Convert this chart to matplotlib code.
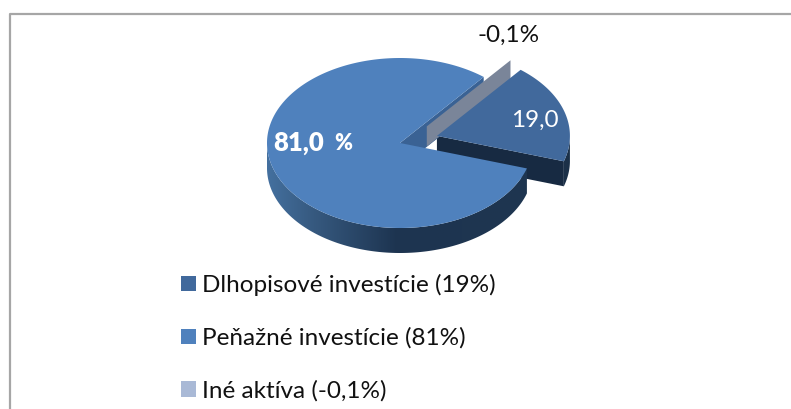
import numpy as np
import matplotlib
matplotlib.use("Agg")
import matplotlib.pyplot as plt
from matplotlib.colors import LinearSegmentedColormap
from matplotlib.patches import Patch, Polygon

plt.rcParams['font.family'] = ['Lato', 'DejaVu Sans']

labels = ['Dlhopisové investície (19%)', 'Peňažné investície (81%)', 'Iné aktíva (-0,1%)']
values = [19.0, 81.0]
other_value = -0.1
colors = ['#41699c', '#4f81bd', '#a9b9d6']

# pie geometry, in pixels of the picture
cx, cy = 400, 143
rx, ry = 133, 85
depth = 25
start = 51.0
explode = 0.29


def arc(x0, y0, a0, a1, n=200):
    t = np.radians(np.linspace(a0, a1, n))
    return np.column_stack([x0 + rx * np.cos(t), y0 - ry * np.sin(t)])


def shifted(x0, y0, a, k):
    t = np.radians(a)
    return x0 + k * rx * np.cos(t), y0 - k * ry * np.sin(t)


fig = plt.figure(figsize=(7.91, 4.09), dpi=100)
ax = fig.add_axes([0, 0, 1, 1])

a_big_end = start + values[1] * 3.6
a_small_end = a_big_end + values[0] * 3.6
mid = (a_big_end + a_small_end) / 2
sx, sy = shifted(cx, cy, mid, explode)
ox, oy = shifted(cx, cy, start, explode + 0.03)
oy += 4.5

# exploded slice: cut face and rim
p = arc(sx, sy, a_big_end, 360)
edge = np.vstack([[sx, sy], p[:1], p[:1] + [0, depth], [sx, sy + depth]])
ax.add_patch(Polygon(edge, fc='#172a42', ec='none', zorder=2))
rim = np.vstack([p, p[::-1] + [0, depth]])
ax.add_patch(Polygon(rim, fc='#1b3048', ec='none', zorder=2))

# inner wall of the big slice
e = arc(cx, cy, start, start, 1)[0]
band = [[cx, cy], e, e + [0, depth], [cx, cy + depth]]
ax.add_patch(Polygon(band, fc='#3a6294', ec='none', zorder=3))

# thin negative slice shows only as a grey wall
w = arc(ox, oy, start, start, 1)[0]
wall = [[ox, oy], w, w + [0, 20], [ox, oy + 20]]
ax.add_patch(Polygon(wall, fc='#7a8599', ec='none', zorder=4))

# exploded slice top
top = np.vstack([[sx, sy], arc(sx, sy, a_big_end, a_small_end)])
ax.add_patch(Polygon(top, fc=colors[0], ec='none', zorder=5))

# rim of big slice with shading
low = arc(cx, cy, 180, a_big_end)
body = np.vstack([low, low[::-1] + [0, depth]])
clip = Polygon(body, fc='none', ec='none', transform=ax.transData)
ax.add_patch(clip)
shade = LinearSegmentedColormap.from_list('shade', [(0, '#44709f'), (0.18, '#36597f'), (0.5, '#1d3450'), (1, '#1f3650')])
im = ax.imshow(np.linspace(0, 1, 256)[None, :], cmap=shade, aspect='auto', zorder=6,
               extent=[cx - rx, low[-1, 0], cy + ry + depth, cy - 10])
im.set_clip_path(clip)

# big slice top
big = np.vstack([[cx, cy], arc(cx, cy, start, a_big_end, 400)])
ax.add_patch(Polygon(big, fc=colors[1], ec='none', zorder=7))

# data labels
ax.text(509, 35, str(other_value).replace('.', ',') + '%', fontsize=17.5, ha='center', va='center', color='#111111', zorder=8)
ax.text(535, 120, '19,0', fontsize=17.5, ha='center', va='center', color='white', zorder=8)
ax.text(273, 143, '81,0', fontsize=18.5, fontweight='heavy', ha='left', va='center', color='white', zorder=8)
ax.text(334, 143, '%', fontsize=15.5, fontweight='heavy', ha='left', va='center', color='white', zorder=8)

# chart frame, only top and left are in the crop
ax.plot([9.5, 9.5, 791], [409, 13.5, 13.5], color='#a6a6a6', lw=1.6, zorder=1)

handles = [Patch(fc=c, ec='none') for c in colors]
ax.legend(handles, labels, loc='upper left', bbox_to_anchor=(181 / 791, 1 - 274 / 409), frameon=False,
          fontsize=17.5, handlelength=0.62, handleheight=0.62, handletextpad=0.25,
          labelspacing=1.29, borderpad=0, borderaxespad=0, labelcolor='#111111')

ax.set_xlim(0, 791)
ax.set_ylim(409, 0)
ax.axis('off')

fig.savefig('out.png', dpi=100)
